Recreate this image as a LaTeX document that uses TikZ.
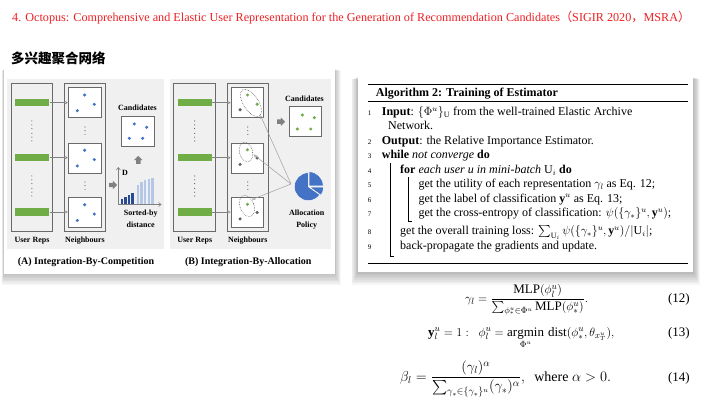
\documentclass[tikz,border=0pt]{standalone}
\usepackage{amsmath}
\usepackage{graphicx}
\usepackage{fontspec}
\setmainfont{Liberation Serif}
\newfontfamily\cjk{Noto Sans CJK SC}
\usetikzlibrary{arrows.meta,shapes.arrows}
\definecolor{titlered}{RGB}{238,32,36}
\definecolor{pgray}{RGB}{240,240,240}
\definecolor{bgreen}{RGB}{112,173,71}
\definecolor{dblue}{RGB}{68,114,196}
\definecolor{navy}{RGB}{40,75,145}
\definecolor{lblue}{RGB}{180,199,231}
\definecolor{dgray}{RGB}{95,95,95}
\definecolor{edge}{RGB}{105,105,105}
\begin{document}
\begin{tikzpicture}[x=1pt,y=-1pt,
  frame/.style={draw=edge, line width=0.9pt, inner sep=0pt},
  ubox/.style={frame, minimum width=41.7pt, minimum height=148.4pt},
  ibox/.style={frame, fill=white, minimum width=32.7pt, minimum height=30pt},
  bar/.style={fill=bgreen, minimum width=34.3pt, minimum height=7.3pt, inner sep=0pt},
  conn/.style={draw=gray, line width=0.6pt, -{Triangle[open,length=3.5pt,width=3.5pt]}},
  pconn/.style={draw=gray!75, line width=0.5pt, -{Triangle[open,length=3pt,width=3pt]}},
  dot/.style={circle, fill=#1, inner sep=0pt, minimum size=3.4pt},
  lab/.style={inner sep=0pt, font=\fontsize{8}{11.5}\selectfont\bfseries},
  captxt/.style={inner sep=0pt, font=\fontsize{10}{12}\selectfont\bfseries},
  blk/.style={single arrow, fill=gray, draw=none, inner sep=2pt, minimum width=8pt,
              minimum height=8pt, single arrow head extend=2pt},
  axis/.style={draw=gray, line width=0.6pt, -{Straight Barb[length=2.5pt,width=4pt]}},
  alg/.style={anchor=base west, inner sep=0pt, font=\fontsize{12}{14}\selectfont},
  num/.style={anchor=base, inner sep=0pt, font=\fontsize{7}{8}\selectfont},
  eq/.style={inner sep=0pt, anchor=base west, font=\fontsize{13}{15}\selectfont}]
\useasboundingbox (0,0) rectangle (720,403);
\fill[white] (0,0) rectangle (720,403);

% ---------- headings ----------
\node[anchor=west, inner sep=0pt, text=titlered] (title) at (12,18)
  {\resizebox{678pt}{!}{4. Octopus: Comprehensive and Elastic User Representation for the Generation of Recommendation Candidates{\cjk （}SIGIR 2020{\cjk ，}MSRA{\cjk ）}}};
\node[anchor=west, inner sep=0pt, font=\cjk\fontsize{13.5}{15}\selectfont\bfseries] (sub) at (11,58) {多兴趣聚合网络};

% ---------- left card ----------
\foreach \i in {1,...,8} {\fill[black, opacity=0.03] (4-\i*0.3, 69+\i*0.2) rectangle (335+\i*0.7, 274+\i*1.4);}
\fill[white] (4,69) rectangle (335,274);
\fill[pgray] (7.3,79) rectangle (164,249);
\fill[pgray] (169.5,79) rectangle (331,249);

% ===== Panel A =====
\node[ubox] (aur) at (31.85,157.5) {};
\node[ubox] (anb) at (85,157.5) {};
\node[bar] (ab1) at (32.15,102.7) {};
\node[bar] (ab2) at (32.15,157.7) {};
\node[bar] (ab3) at (32.15,212) {};
\node[ibox] (an1) at (84.65,102.7) {};
\node[ibox] (an2) at (84.65,158) {};
\node[ibox] (an3) at (84.65,212.5) {};
\draw[conn] (ab1.east) -- (ab1.east -| an1.west);
\draw[conn] (ab2.east) -- (ab2.east -| an2.west);
\draw[conn] (ab3.east) -- (ab3.east -| an3.west);
\foreach \b in {an1,an2,an3} {
  \node[dot=dblue] (\b-d1) at ([shift={(0,-7.7)}]\b) {};
  \node[dot=dblue] (\b-d2) at ([shift={(9.65,1.6)}]\b) {};
  \node[dot=dblue] (\b-d3) at ([shift={(-7.35,8)}]\b) {};
}
\foreach \yy in {121,124.8,128.6,133.4,137.2,141} {\fill[dgray] (31.85,\yy) circle[radius=0.6pt];}
\foreach \yy in {176,179.8,183.6,188.4,192.2,196} {\fill[dgray] (31.85,\yy) circle[radius=0.6pt];}
\foreach \yy in {127,130.7,134.4,182,185.7,189.4} {\fill[dgray] (85,\yy) circle[radius=0.6pt];}
\node[lab] (acl) at (137.5,107.3) {Candidates};
\node[ibox, minimum width=32.6pt, minimum height=29.3pt] (acb) at (138,131.35) {};
\node[dot=dblue] (acd1) at (134.3,124) {};
\node[dot=dblue] (acd2) at (146.7,127.3) {};
\node[dot=dblue] (acd3) at (129.3,138.3) {};
\node[dot=dblue] (acd4) at (142.7,138.3) {};
\node[blk, rotate=90] (aup) at (138.3,161) {};
\node[blk] (art) at (112,185) {};
% chart
\coordinate (ao) at (118.3,204.5);
\coordinate (ay) at (118.3,167);
\coordinate (ax) at (161.5,204.5);
\foreach \xx/\tp in {122/199, 125.5/197.5, 129/195, 132.5/193}
  {\fill[navy] (\xx-1.2,204.5) rectangle (\xx+1.2,\tp);}
\foreach \xx/\tp in {138/185, 141.6/181.7, 145.2/180, 148.8/179, 152.4/178.3}
  {\fill[lblue] (\xx-1.2,204.5) rectangle (\xx+1.2,\tp);}
\draw[axis] (ao) -- (ay);
\draw[axis] (ao) -- (ax);
\node[lab] (adl) at (125,173) {D};
\node[lab, align=center] (asl) at (140.7,219) {Sorted-by\\distance};
\node[lab] (aurl) at (32,241) {User Reps};
\node[lab] (anbl) at (85,241) {Neighbours};
\node[captxt] (acap) at (86,261.7) {(A) Integration-By-Competition};

% ===== Panel B =====
\node[ubox] (bur) at (194.65,157.5) {};
\node[ubox] (bnb) at (247.8,157.5) {};
\node[bar] (bb1) at (194.95,102.7) {};
\node[bar] (bb2) at (194.95,157.7) {};
\node[bar] (bb3) at (194.95,212) {};
\node[ibox] (bn1) at (247.45,102.7) {};
\node[ibox] (bn2) at (247.45,158) {};
\node[ibox] (bn3) at (247.45,212.5) {};
\draw[conn] (bb1.east) -- (bb1.east -| bn1.west);
\draw[conn] (bb2.east) -- (bb2.east -| bn2.west);
\draw[conn] (bb3.east) -- (bb3.east -| bn3.west);
\node[dot=bgreen] (bn1-d1) at ([shift={(0,-7.7)}]bn1) {};
\node[dot=bgreen] (bn1-d2) at ([shift={(9.65,1.6)}]bn1) {};
\node[dot=dgray] (bn1-d3) at ([shift={(-7.35,7)}]bn1) {};
\foreach \b in {bn2,bn3} {
  \node[dot=bgreen] (\b-d1) at ([shift={(0,-8.2)}]\b) {};
  \node[dot=dgray] (\b-d2) at ([shift={(9.65,0)}]\b) {};
  \node[dot=dgray] (\b-d3) at ([shift={(-7.4,6.4)}]\b) {};
}
\draw[dgray, densely dotted, line width=0.6pt] (251,103) ellipse [x radius=15.5pt, y radius=7.5pt, rotate=-57];
\draw[dgray, densely dotted, line width=0.6pt] (246,152) ellipse [x radius=6.5pt, y radius=10pt, rotate=15];
\draw[dgray, densely dotted, line width=0.6pt] (247,206) ellipse [x radius=7pt, y radius=11pt, rotate=20];
\foreach \yy in {121,124.8,128.6,133.4,137.2,141} {\fill[dgray] (194.65,\yy) circle[radius=0.6pt];}
\foreach \yy in {176,179.8,183.6,188.4,192.2,196} {\fill[dgray] (194.65,\yy) circle[radius=0.6pt];}
\foreach \yy in {127,130.7,134.4,182,185.7,189.4} {\fill[dgray] (247.8,\yy) circle[radius=0.6pt];}
\node[lab] (bcl) at (304.5,98.3) {Candidates};
\node[ibox, minimum width=32.4pt, minimum height=30pt] (bcb) at (305.5,121.7) {};
\node[dot=bgreen] (bcd1) at (302.3,115) {};
\node[dot=bgreen] (bcd2) at (314.3,117.7) {};
\node[dot=bgreen] (bcd3) at (297.3,129) {};
\node[dot=bgreen] (bcd4) at (310.7,129) {};
\node[blk] (brt) at (280,121.7) {};
% pie
\begin{scope}[shift={(308.3,186.7)}, y=1pt]
  \fill[dblue, draw=white, line width=0.5pt] (0,0) -- (90:14) arc[start angle=90, end angle=325, radius=14] -- cycle;
  \fill[dblue, draw=white, line width=0.5pt] (-17.5:1.3) -- ++(325:14) arc[start angle=325, end angle=360, radius=14] -- cycle;
  \fill[dblue, draw=white, line width=0.5pt] (45:1.3) -- ++(0:14) arc[start angle=0, end angle=90, radius=14] -- cycle;
\end{scope}
\coordinate (pp) at (291,184);
\coordinate (bt1) at (260.5,115.5);
\coordinate (bt2) at (253.5,154.5);
\coordinate (bt3) at (252,199.5);
\draw[pconn] (pp) -- (bt1);
\draw[pconn] (pp) -- (bt2);
\draw[pconn] (pp) -- (bt3);
\node[lab, align=center] (bpl) at (306.7,219.5) {Allocation\\Policy};
\node[lab] (burl) at (194.8,241) {User Reps};
\node[lab] (bnbl) at (247.8,241) {Neighbours};
\node[captxt] (bcap) at (248.3,261.7) {(B) Integration-By-Allocation};

% ---------- right card ----------
\foreach \i in {1,...,8} {\fill[black, opacity=0.035] (358-\i*0.8, 77+\i*0.3) rectangle (693+\i*0.9, 272+\i*1.6);}
\fill[white] (358,77) rectangle (693,272);
\draw[line width=1pt] (368,85) -- (688,85);
\draw[line width=0.6pt] (368,101.7) -- (688,101.7);
\draw[line width=0.6pt] (368,263.5) -- (688,263.5);
\node[alg, font=\fontsize{12}{14}\selectfont\bfseries] (atitle) at (375.7,96.5) {Algorithm 2: Training of Estimator};
\node[num] (n1) at (369.5,116) {1};
\node[alg] (l1) at (381.7,116) {\textbf{Input}: $\{\Phi^u\}_{\mathrm{U}}$ from the well-trained Elastic Archive};
\node[alg] (l1b) at (388,130) {Network.};
\node[num] (n2) at (369.5,144.3) {2};
\node[alg] (l2) at (381.7,144.3) {\textbf{Output}: the Relative Importance Estimator.};
\node[num] (n3) at (369.5,158.8) {3};
\node[alg] (l3) at (381.7,158.8) {\textbf{while} \textit{not converge} \textbf{do}};
\node[num] (n4) at (369.5,173.3) {4};
\node[alg] (l4) at (400,173.3) {\textbf{for} \textit{each user u in mini-batch} $\mathrm{U}_i$ \textbf{do}};
\node[num] (n5) at (369.5,187.7) {5};
\node[alg] (l5) at (418.3,187.7) {get the utility of each representation $\gamma_l$ as Eq. 12;};
\node[num] (n6) at (369.5,202.2) {6};
\node[alg] (l6) at (418.3,202.2) {get the label of classification $\mathbf{y}^u$ as Eq. 13;};
\node[num] (n7) at (369.5,216.7) {7};
\node[alg] (l7) at (418.3,216.7) {get the cross-entropy of classification: $\psi(\{\gamma_*\}^u,\mathbf{y}^u)$;};
\node[num] (n8) at (369.5,235) {8};
\node[alg] (l8) at (400,235) {get the overall training loss: $\sum_{\mathrm{U}_i}\psi(\{\gamma_*\}^u,\mathbf{y}^u)/|\mathrm{U}_i|$;};
\node[num] (n9) at (369.5,249.5) {9};
\node[alg] (l9) at (400,249.5) {back-propagate the gradients and update.};
\draw[line width=0.5pt] (390,163.5) -- (390,256) -- (394,256);
\draw[line width=0.5pt] (408.3,177.5) -- (408.3,221.5) -- (412,221.5);

% ---------- equations ----------
\node[eq] (e12) at (465,302) {$\displaystyle \gamma_l = \frac{\mathrm{MLP}(\phi_l^u)}{\sum_{\phi_*^u\in\Phi^u}\mathrm{MLP}(\phi_*^u)}.$};
\node[eq] (e13) at (428,336.5) {$\displaystyle \mathbf{y}_l^u = 1:\ \ \phi_l^u = \operatorname*{argmin}_{\Phi^u}\,\mathrm{dist}(\phi_*^u,\theta_{x_T^u}),$};
\node[eq, font=\fontsize{14}{16}\selectfont] (e14) at (400,381) {$\displaystyle \beta_l = \frac{(\gamma_l)^\alpha}{\sum_{\gamma_*\in\{\gamma_*\}^u}(\gamma_*)^\alpha},\ \ \text{where } \alpha > 0.$};
\node[eq, anchor=base east] (q12) at (690,302) {(12)};
\node[eq, anchor=base east] (q13) at (690,336.5) {(13)};
\node[eq, anchor=base east] (q14) at (690,381) {(14)};
\end{tikzpicture}
\end{document}
